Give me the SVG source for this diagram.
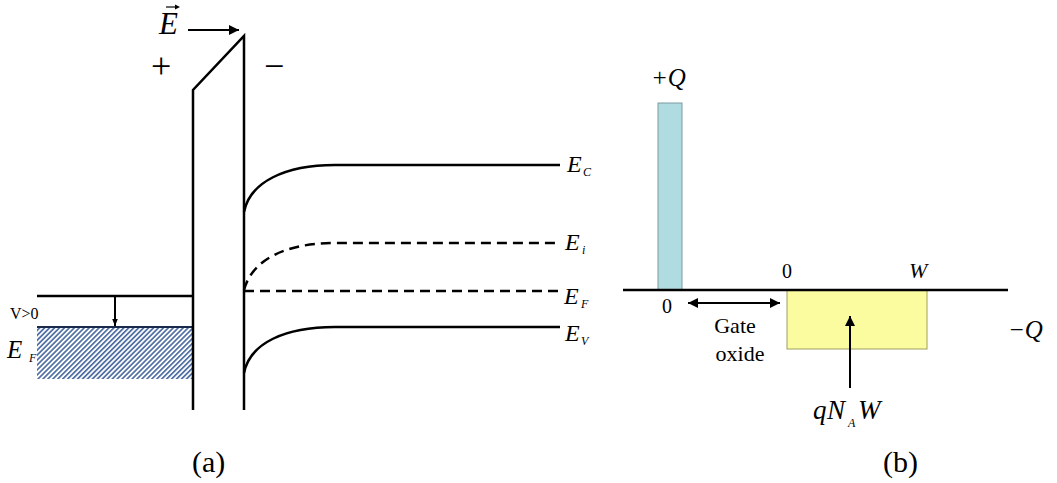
<svg xmlns="http://www.w3.org/2000/svg" width="1057" height="483" viewBox="0 0 1057 483">
<defs>
<pattern id="hatch" patternUnits="userSpaceOnUse" width="3.5" height="3.5" patternTransform="rotate(45)">
<rect width="3.5" height="3.5" fill="#ffffff"/>
<rect width="1.7" height="3.5" fill="#4f6fa3"/>
</pattern>
<marker id="ahs" viewBox="0 0 10 10" refX="10" refY="5" markerWidth="7" markerHeight="7" orient="auto" markerUnits="userSpaceOnUse">
<path d="M0,1 L10,5 L0,9 z" fill="#000"/>
</marker>
<marker id="ahl" viewBox="0 0 10 10" refX="10" refY="5" markerWidth="13" markerHeight="10" orient="auto-start-reverse" markerUnits="userSpaceOnUse">
<path d="M0,0 L10,5 L0,10 z" fill="#000"/>
</marker>
</defs>
<style>
.ln{fill:none;stroke:#000;stroke-width:2.5}
.dash{fill:none;stroke:#000;stroke-width:2.5;stroke-dasharray:10 6}
.thin{fill:none;stroke:#000;stroke-width:2}
text{fill:#000}
.it{font-style:italic}
.sub{font-style:italic;font-size:12px}
</style>
<rect width="1057" height="483" fill="#ffffff"/>

<g id="metal">
<rect x="37" y="327" width="155" height="52" fill="url(#hatch)"/>
<line x1="37" y1="327" x2="192" y2="327" stroke="#1a2a4a" stroke-width="2"/>
<line x1="37" y1="296" x2="192" y2="296" class="ln"/>
</g>

<g id="oxide">
<path d="M193,410 V90 L244,36 V410" class="ln" stroke-linejoin="miter"/>
</g>

<g id="bands">
<path d="M244,212 C250,182 285,165 335,165 H560" class="ln"/>
<path d="M244,290 C252,260 285,243 335,243 H560" class="dash"/>
<path d="M244,291 H560" class="dash"/>
<path d="M244,373 C250,343 285,327 335,327 H560" class="ln"/>
</g>

<g id="charge-b">
<rect x="658" y="103" width="24" height="187" fill="#b0dbe0" stroke="#7a9aa0" stroke-width="1"/>
<rect x="787" y="290" width="140" height="59" fill="#fbfba0" stroke="#a0a060" stroke-width="1"/>
<line x1="623" y1="290" x2="1008" y2="290" class="ln"/>
</g>

<g id="connectors">
<line x1="188" y1="30" x2="239" y2="30" class="thin" marker-end="url(#ahl)"/>
<line x1="115" y1="296" x2="115" y2="326" class="thin" stroke-width="1.5" marker-end="url(#ahs)"/>
<line x1="688" y1="303" x2="780" y2="303" class="thin" marker-start="url(#ahl)" marker-end="url(#ahl)"/>
<line x1="850" y1="388" x2="850" y2="316" class="thin" marker-end="url(#ahl)"/>
</g>

<g id="labels-a" font-family="Liberation Serif, Times New Roman, serif">
<text x="159" y="34" class="it" font-size="31">E</text>
<line x1="166" y1="7" x2="177" y2="7" stroke="#000" stroke-width="1.2"/>
<path d="M175,4.5 L180,7 L175,9.5 z" fill="#000"/>
<text x="151" y="78" font-size="36">+</text>
<text x="264" y="78" font-size="36">−</text>
<text x="10" y="319" font-size="16">V&gt;0</text>
<text x="7" y="358" class="it" font-size="25">E</text>
<text x="29" y="362" class="sub">F</text>
<text x="567" y="172" class="it" font-size="24">E</text>
<text x="583" y="176" class="sub">C</text>
<text x="565" y="250" class="it" font-size="24">E</text>
<text x="582" y="254" class="sub">i</text>
<text x="564" y="304" class="it" font-size="24">E</text>
<text x="581" y="308" class="sub">F</text>
<text x="565" y="341" class="it" font-size="24">E</text>
<text x="581" y="345" class="sub">V</text>
<text x="192" y="472" font-size="30">(a)</text>
</g>

<g id="labels-b" font-family="Liberation Serif, Times New Roman, serif">
<text x="651" y="86" class="it" font-size="25">+Q</text>
<text x="662" y="313" font-size="20">0</text>
<text x="782" y="278" font-size="20">0</text>
<text x="909" y="278" class="it" font-size="22">W</text>
<text x="1008" y="338" class="it" font-size="25">−Q</text>
<text x="735" y="333" font-size="22" text-anchor="middle">Gate</text>
<text x="740" y="361" font-size="22" text-anchor="middle">oxide</text>
<text x="813" y="419" class="it" font-size="27">q</text>
<text x="827" y="419" class="it" font-size="27">N</text>
<text x="848" y="427" class="sub" font-size="13">A</text>
<text x="858" y="419" class="it" font-size="27">W</text>
<text x="883" y="472" font-size="30">(b)</text>
</g>
</svg>
